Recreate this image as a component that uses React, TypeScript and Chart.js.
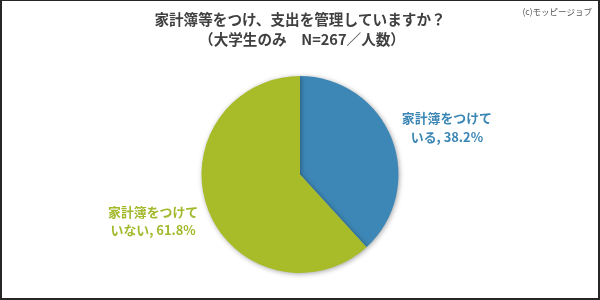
import React, { useEffect, useRef } from "react";
import { Chart, registerables } from "chart.js";

Chart.register(...registerables);

const categories: string[][] = [
  ["家計簿をつけて", "いる, 38.2%"],
  ["家計簿をつけて", "いない, 61.8%"],
];
const values: number[] = [38.2, 61.8];
const sliceColors: string[] = ["#3d87b6", "#a8bc29"];
const labelColors: string[] = ["#3b86b5", "#a3b82a"];
const titleLines: string[] = ["家計簿等をつけ、支出を管理していますか？", "（大学生のみ　N=267／人数）"];
const copyright = "(c)モッピージョブ";

const FONT = '"Noto Sans CJK JP", "Noto Sans", sans-serif';

const decorPlugin = {
  id: "decor",
  beforeDatasetsDraw(chart: any) {
    const ctx = chart.ctx;
    ctx.save();
    ctx.shadowColor = "rgba(0,0,0,0.35)";
    ctx.shadowBlur = 5;
    ctx.shadowOffsetX = 1;
    ctx.shadowOffsetY = 1;
  },
  afterDatasetsDraw(chart: any) {
    chart.ctx.restore();
  },
  afterDraw(chart: any) {
    const ctx = chart.ctx as CanvasRenderingContext2D;
    const W = chart.width;
    const H = chart.height;
    ctx.save();
    // titles
    ctx.textAlign = "center";
    ctx.textBaseline = "middle";
    ctx.fillStyle = "#404040";
    ctx.font = `bold 14.6px ${FONT}`;
    ctx.fillText(titleLines[0], W / 2, 19);
    ctx.fillText(titleLines[1], W / 2 + 2, 39.5);
    // copyright
    ctx.font = `8.5px ${FONT}`;
    ctx.fillStyle = "#555555";
    ctx.textAlign = "right";
    ctx.fillText(copyright, 592, 12);
    // labels
    const meta = chart.getDatasetMeta(0);
    ctx.textAlign = "center";
    ctx.font = `bold 12.9px ${FONT}`;
    meta.data.forEach((arc: any, i: number) => {
      const mid = (arc.startAngle + arc.endAngle) / 2;
      const r = arc.outerRadius;
      const cx = arc.x + Math.cos(mid) * r * 1.6;
      const cy = arc.y + Math.sin(mid) * r * 1.31;
      ctx.fillStyle = labelColors[i];
      const lines = categories[i];
      lines.forEach((ln, j) => {
        ctx.fillText(ln, cx, cy + (j - (lines.length - 1) / 2) * 18.5);
      });
    });
    // border
    ctx.fillStyle = "#262626";
    ctx.fillRect(0, 0, W, 1);
    ctx.fillRect(0, 0, 2, H);
    ctx.fillRect(W - 2, 0, 2, H);
    ctx.fillRect(0, H - 2, W, 2);
    ctx.restore();
  },
};

export default function App() {
  const ref = useRef<HTMLCanvasElement | null>(null);
  useEffect(() => {
    document.body.style.margin = "0";
    const chart = new Chart(ref.current!, {
      type: "pie",
      data: {
        labels: categories.map((c) => c.join("")),
        datasets: [
          {
            data: values,
            backgroundColor: sliceColors,
            borderWidth: 0,
          },
        ],
      },
      options: {
        responsive: false,
        animation: false,
        layout: { padding: { top: 76, bottom: 27, left: 0, right: 0 } },
        plugins: {
          legend: { display: false },
          tooltip: { enabled: false },
          title: { display: false },
        },
      },
      plugins: [decorPlugin],
    });
    return () => chart.destroy();
  }, []);
  return (
    <div style={{ position: "absolute", left: 0, top: 0, width: 600, height: 300, background: "#fff" }}>
      <canvas ref={ref} width={600} height={300} />
    </div>
  );
}
